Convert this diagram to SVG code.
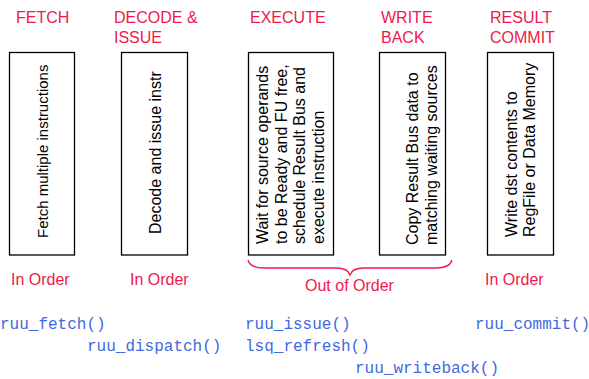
<svg xmlns="http://www.w3.org/2000/svg" width="589" height="379" viewBox="0 0 589 379">
<style>
.hd{font-family:"Liberation Sans",Arial,sans-serif;font-size:16px;fill:#f0194b}
.bx{fill:#fff;stroke:#000;stroke-width:1.3}
.bt{font-family:"Liberation Sans",Arial,sans-serif;font-size:16px;fill:#000}
.cd{font-family:"Liberation Mono","Courier New",monospace;font-size:16px;fill:#4169e1}
.br{fill:none;stroke:#f0194b;stroke-width:1.3}
</style>
<rect width="589" height="379" fill="#fff"/>
<g id="fetch">
<text class="hd" x="16" y="23">FETCH</text>
<rect class="bx" x="9.5" y="52.5" width="65" height="202.5"/>
<text class="bt" style="font-size:15px" transform="translate(48,238) rotate(-90)">Fetch multiple instructions</text>
<text class="hd" x="11" y="285">In Order</text>
</g>
<g id="decode">
<text class="hd" x="114" y="23">DECODE &amp;</text>
<text class="hd" x="114" y="43">ISSUE</text>
<rect class="bx" x="121.5" y="52.5" width="66" height="202.5"/>
<text class="bt" transform="translate(161,234) rotate(-90)">Decode and issue instr</text>
<text class="hd" x="130" y="285">In Order</text>
</g>
<g id="execute">
<text class="hd" x="250" y="23">EXECUTE</text>
<rect class="bx" x="248.5" y="52.5" width="85" height="202.5"/>
<text class="bt" transform="translate(268,244) rotate(-90)">Wait for source operands</text>
<text class="bt" transform="translate(286.5,244) rotate(-90)">to be Ready and FU free,</text>
<text class="bt" transform="translate(305,244) rotate(-90)">schedule Result Bus and</text>
<text class="bt" transform="translate(323.5,244) rotate(-90)">execute instruction</text>
</g>
<g id="writeback">
<text class="hd" x="381" y="23">WRITE</text>
<text class="hd" x="381" y="43">BACK</text>
<rect class="bx" x="379.5" y="52.5" width="66" height="202.5"/>
<text class="bt" transform="translate(417.5,245) rotate(-90)">Copy Result Bus data to</text>
<text class="bt" transform="translate(437,245) rotate(-90)">matching waiting sources</text>
</g>
<g id="commit">
<text class="hd" x="490" y="23">RESULT</text>
<text class="hd" x="490" y="43">COMMIT</text>
<rect class="bx" x="487.5" y="52.5" width="66" height="202.5"/>
<text class="bt" transform="translate(516.5,237) rotate(-90)">Write dst contents to</text>
<text class="bt" transform="translate(534.5,237) rotate(-90)">RegFile or Data Memory</text>
<text class="hd" x="485" y="285">In Order</text>
</g>
<g id="connectors">
<path class="br" d="M248,260 Q250,268 264,268 L336,268 Q348,268 350,275 Q352,268 364,268 L436,268 Q450,268 452,260"/>
</g>
<g id="outoforder">
<text class="hd" x="305" y="291">Out of Order</text>
</g>
<g id="code">
<text class="cd" x="0" y="329">ruu_fetch()</text>
<text class="cd" x="87" y="351">ruu_dispatch()</text>
<text class="cd" x="245" y="329">ruu_issue()</text>
<text class="cd" x="245" y="351">lsq_refresh()</text>
<text class="cd" x="355" y="373">ruu_writeback()</text>
<text class="cd" x="475" y="329">ruu_commit()</text>
</g>
</svg>
